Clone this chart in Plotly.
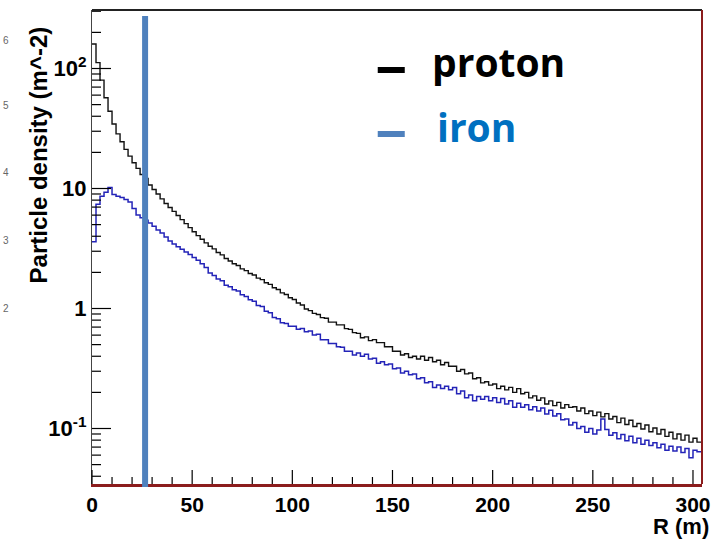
import math
import plotly.graph_objects as go

bin_width = 2
r_start = 0

proton = [160, 112, 80, 57, 44, 34.5, 28.5, 24.5, 21.2, 18.6,
          16.4, 14.7, 13.1, 12.1, 10.7, 9.8, 9.0, 8.2, 7.5, 6.95,
          6.45, 5.95, 5.5, 5.1, 4.72, 4.36, 4.05, 3.78, 3.52, 3.30,
          3.14, 2.93, 2.80, 2.61, 2.49, 2.36, 2.28, 2.14, 2.07, 1.96,
          1.90, 1.79, 1.74, 1.64, 1.59, 1.49, 1.44, 1.35, 1.31, 1.23,
          1.19, 1.11, 1.07, 0.99, 0.96, 0.91, 0.89, 0.84, 0.83, 0.77,
          0.77, 0.73, 0.73, 0.68, 0.67, 0.63, 0.62, 0.57, 0.58, 0.54,
          0.55, 0.52, 0.52, 0.48, 0.48, 0.44, 0.44, 0.41, 0.42, 0.39,
          0.40, 0.38, 0.40, 0.37, 0.39, 0.36, 0.37, 0.34, 0.355, 0.33,
          0.33, 0.30, 0.31, 0.285, 0.29, 0.26, 0.265, 0.24, 0.245, 0.23,
          0.235, 0.215, 0.225, 0.21, 0.22, 0.20, 0.215, 0.195, 0.20, 0.18,
          0.187, 0.172, 0.18, 0.16, 0.17, 0.155, 0.165, 0.148, 0.158, 0.15,
          0.152, 0.14, 0.148, 0.133, 0.14, 0.128, 0.137, 0.125, 0.133, 0.12,
          0.126, 0.112, 0.122, 0.108, 0.117, 0.104, 0.11, 0.099, 0.107, 0.094,
          0.101, 0.09, 0.098, 0.086, 0.093, 0.082, 0.09, 0.08, 0.088, 0.077, 0.083, 0.077]

iron = [3.6, 7.4, 8.6, 9.3, 10.2, 8.9, 8.6, 8.4, 8.1, 7.7,
        6.8, 6.0, 5.7, 5.45, 5.15, 4.85, 4.5, 4.25, 3.95, 3.65,
        3.45, 3.27, 3.12, 2.95, 2.82, 2.66, 2.52, 2.36, 2.2, 1.98,
        1.88, 1.76, 1.70, 1.56, 1.52, 1.43, 1.40, 1.30, 1.26, 1.18,
        1.15, 1.06, 1.04, 0.95, 0.92, 0.84, 0.82, 0.76, 0.75, 0.71,
        0.71, 0.67, 0.68, 0.64, 0.65, 0.60, 0.61, 0.55, 0.55, 0.51,
        0.51, 0.48, 0.475, 0.44, 0.44, 0.41, 0.425, 0.40, 0.415, 0.38,
        0.385, 0.35, 0.36, 0.34, 0.345, 0.315, 0.32, 0.29, 0.30, 0.28,
        0.285, 0.26, 0.265, 0.24, 0.245, 0.22, 0.23, 0.215, 0.225, 0.21,
        0.22, 0.195, 0.205, 0.18, 0.19, 0.17, 0.185, 0.175, 0.185, 0.17,
        0.18, 0.165, 0.178, 0.16, 0.17, 0.15, 0.162, 0.15, 0.158, 0.143,
        0.152, 0.14, 0.148, 0.132, 0.142, 0.127, 0.133, 0.118, 0.12, 0.107,
        0.112, 0.1, 0.104, 0.093, 0.1, 0.09, 0.097, 0.12, 0.098, 0.088,
        0.092, 0.082, 0.089, 0.079, 0.086, 0.076, 0.083, 0.074, 0.08, 0.072,
        0.076, 0.069, 0.074, 0.066, 0.071, 0.065, 0.07, 0.063, 0.068, 0.057, 0.066, 0.064]

x_ticks = [0, 50, 100, 150, 200, 250, 300]
y_tickvals = [0.1, 1, 10, 100]
y_ticktext = ["<b>10<sup>-1</sup></b>", "<b>1</b>", "<b>10</b>", "<b>10<sup>2</sup></b>"]
side_labels = ["6", "5", "4", "3", "2"]
marker_r = 26.5


def edges_and_steps(vals):
    xs = [r_start + i * bin_width for i in range(len(vals) + 1)]
    ys = list(vals) + [vals[-1]]
    return xs, ys


x_range = [0, 304.5]
y_range = [-1.4625, 2.4875]
pw, ph = 609.5, 474.0

fig = go.Figure()
for vals, col, w in [(proton, "#111111", 1.4), (iron, "#2424b8", 1.5)]:
    xs, ys = edges_and_steps(vals)
    fig.add_trace(go.Scatter(x=xs, y=ys, mode="lines", line=dict(color=col, width=w, shape="hv"),
                             showlegend=False, hoverinfo="skip"))

minor_y = [k * 10.0 ** e for e in range(-2, 3) for k in range(2, 10)]
minor_y = [v for v in minor_y if y_range[0] < math.log10(v) < y_range[1]]
minor_x = [v for v in range(10, 305, 10) if v % 50 != 0]

font_fam = "Liberation Sans, Arial, sans-serif"
fig.update_layout(
    width=720, height=539,
    margin=dict(l=92, r=18, t=10, b=55),
    paper_bgcolor="white", plot_bgcolor="white",
    xaxis=dict(range=x_range, tickmode="array", tickvals=x_ticks,
               ticktext=["<b>%d</b>" % v for v in x_ticks], ticks="",
               showgrid=False, zeroline=False,
               showline=True, linecolor="#8b1c1c", linewidth=2.5,
               tickfont=dict(family=font_fam, size=21, color="black")),
    yaxis=dict(type="log", range=y_range, tickmode="array", tickvals=y_tickvals, ticktext=y_ticktext,
               ticks="", showgrid=False, zeroline=False, showline=True, linecolor="#444444", linewidth=1.2,
               tickfont=dict(family=font_fam, size=22, color="black")),
)


# axis-to-paper mapping for the tick marks (derived from the axis ranges)
def x_paper(v):
    return (v - x_range[0]) / (x_range[1] - x_range[0])


def y_paper(v):
    return (math.log10(v) - y_range[0]) / (y_range[1] - y_range[0])


tick_line = dict(color="black", width=1.2)
for v in x_ticks:
    fig.add_shape(type="line", xref="paper", yref="paper", x0=x_paper(v), x1=x_paper(v),
                  y0=0, y1=14 / ph, line=tick_line)
for v in minor_x:
    fig.add_shape(type="line", xref="paper", yref="paper", x0=x_paper(v), x1=x_paper(v),
                  y0=0, y1=7 / ph, line=tick_line)
for v in y_tickvals:
    fig.add_shape(type="line", xref="paper", yref="paper", x0=0, x1=19 / pw,
                  y0=y_paper(v), y1=y_paper(v), line=tick_line)
for v in minor_y:
    fig.add_shape(type="line", xref="paper", yref="paper", x0=0, x1=9 / pw,
                  y0=y_paper(v), y1=y_paper(v), line=tick_line)

# frame top and right
fig.add_shape(type="line", xref="paper", yref="paper", x0=0, x1=1, y0=1, y1=1,
              line=dict(color="#222222", width=2))
fig.add_shape(type="line", xref="paper", yref="paper", x0=1, x1=1, y0=0, y1=1,
              line=dict(color="#8b1c1c", width=2))

# vertical marker bar
fig.add_shape(type="line", xref="x", yref="paper", x0=marker_r, x1=marker_r,
              y0=-3 / ph, y1=1 - 6 / ph, line=dict(color="#4f81bd", width=6))


def px(x):
    return (x - 92.5) / pw


def py(y):
    return 1 - (y - 10) / ph


# legend
fig.add_shape(type="line", xref="paper", yref="paper", x0=px(378), x1=px(405), y0=py(70), y1=py(70),
              line=dict(color="black", width=6))
fig.add_shape(type="line", xref="paper", yref="paper", x0=px(378), x1=px(405), y0=py(134), y1=py(134),
              line=dict(color="#4f81bd", width=6))
fig.add_annotation(xref="paper", yref="paper", x=px(430), y=py(61), xanchor="left", yanchor="middle",
                   text="<b>proton</b>", showarrow=False,
                   font=dict(family="Open Sans, sans-serif", size=39, color="black"))
fig.add_annotation(xref="paper", yref="paper", x=px(435), y=py(127), xanchor="left", yanchor="middle",
                   text="<b>iron</b>", showarrow=False,
                   font=dict(family="Open Sans, sans-serif", size=39, color="#0070c0"))

# axis titles
fig.add_annotation(xref="paper", yref="paper", x=px(40), y=py(155), xanchor="center", yanchor="middle",
                   text="<b>Particle density (m^-2)</b>", textangle=-90, showarrow=False,
                   font=dict(family=font_fam, size=24, color="black"))
fig.add_annotation(xref="paper", yref="paper", x=px(711), y=py(526), xanchor="right", yanchor="middle",
                   text="<b>R (m)</b>", showarrow=False,
                   font=dict(family=font_fam, size=22, color="black"))

# faint cut-off labels at far left
for lab, yy in zip(side_labels, [40, 105, 172, 240, 308]):
    fig.add_annotation(xref="paper", yref="paper", x=px(2), y=py(yy), xanchor="left", yanchor="middle",
                       text=lab, showarrow=False, font=dict(family=font_fam, size=10, color="#666666"))

fig.write_html("out.html")
